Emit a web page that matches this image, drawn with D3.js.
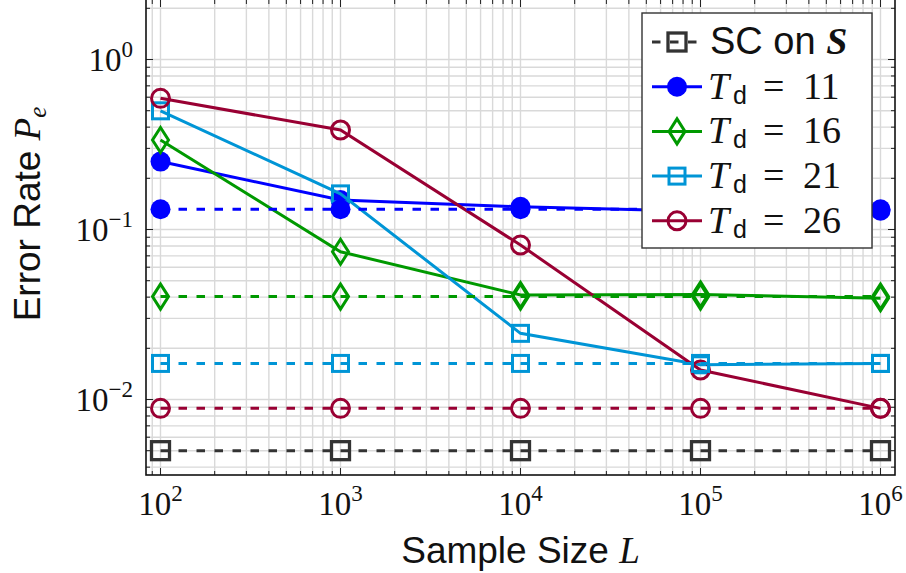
<!DOCTYPE html>
<html>
<head>
<meta charset="utf-8">
<script src="https://cdn.jsdelivr.net/npm/d3@7"></script>
<style>
  body { margin: 0; background: #fff; }
</style>
</head>
<body>
<div id="my_dataviz"></div>
<script>
// sample sizes on the x axis
const sampleSizes = [1e2, 1e3, 1e4, 1e5, 1e6];

// error rates
const scOnS   = [0.0050, 0.0050, 0.0050, 0.0050, 0.0050];
const td11    = [0.251, 0.149, 0.136, 0.128, 0.129];
const td16    = [0.336, 0.074, 0.0412, 0.0415, 0.0394];
const td21    = [0.499, 0.162, 0.0245, 0.0160, 0.0163];
const td26    = [0.591, 0.385, 0.081, 0.0149, 0.00887];
// dashed reference levels for each T_d
const td11Ref = [0.1315, 0.1315, 0.1315, 0.1315, 0.1315];
const td16Ref = [0.0403, 0.0403, 0.0403, 0.0403, 0.0403];
const td21Ref = [0.0163, 0.0163, 0.0163, 0.0163, 0.0163];
const td26Ref = [0.00887, 0.00887, 0.00887, 0.00887, 0.00887];

// tick labels
const xTickExp = [2, 3, 4, 5, 6];
const yTickExp = [-2, -1, 0];
const tdLabels = ['11', '16', '21', '26'];

const width = 906, height = 573;
const plotLeft = 146, plotRight = 895, plotTop = -1, plotBottom = 475;

const colors = { sc: '#333333', t11: '#0000ff', t16: '#009900', t21: '#0095d6', t26: '#990033' };
const lw = 3;

const svg = d3.select('#my_dataviz')
  .append('svg')
    .attr('width', width)
    .attr('height', height);

// 180 px per decade on x, 170 px per decade on y
const x = d3.scaleLog()
  .domain([Math.pow(10, 2 - 14.5 / 180), Math.pow(10, 6 + 14.5 / 180)])
  .range([plotLeft, plotRight]);
const y = d3.scaleLog()
  .domain([Math.pow(10, -1 - 245.5 / 170), Math.pow(10, -1 + 230.5 / 170)])
  .range([plotBottom, plotTop]);

// minor + major tick values
const xMinor = [], yMinor = [];
for (let e = 1; e <= 6; e++) for (let k = 2; k <= 9; k++) {
  const v = k * Math.pow(10, e);
  if (v > x.domain()[0] && v < x.domain()[1]) xMinor.push(v);
}
for (let e = -3; e <= 0; e++) for (let k = 2; k <= 9; k++) {
  const v = k * Math.pow(10, e);
  if (v > y.domain()[0] && v < y.domain()[1]) yMinor.push(v);
}
const xMajor = xTickExp.map(e => Math.pow(10, e));
const yMajor = yTickExp.map(e => Math.pow(10, e));

// grid
const grid = svg.append('g');
grid.selectAll('.xg').data(xMinor.concat(xMajor)).enter().append('line')
  .attr('x1', d => x(d)).attr('x2', d => x(d))
  .attr('y1', plotTop).attr('y2', plotBottom)
  .style('stroke', '#d9d9d9').style('stroke-width', 1.4);
grid.selectAll('.yg').data(yMinor.concat(yMajor)).enter().append('line')
  .attr('y1', d => y(d)).attr('y2', d => y(d))
  .attr('x1', plotLeft).attr('x2', plotRight)
  .style('stroke', '#d9d9d9').style('stroke-width', 1.4);

// ticks on all four sides, pointing inward
const ticks = svg.append('g').style('stroke', '#222').style('stroke-width', 1);
function tickSet(vals, len) {
  vals.forEach(v => {
    ticks.append('line').attr('x1', x(v)).attr('x2', x(v)).attr('y1', plotBottom).attr('y2', plotBottom - len);
    ticks.append('line').attr('x1', x(v)).attr('x2', x(v)).attr('y1', plotTop).attr('y2', plotTop + len + 1);
  });
}
function tickSetY(vals, len) {
  vals.forEach(v => {
    ticks.append('line').attr('y1', y(v)).attr('y2', y(v)).attr('x1', plotLeft).attr('x2', plotLeft + len);
    ticks.append('line').attr('y1', y(v)).attr('y2', y(v)).attr('x1', plotRight).attr('x2', plotRight - len);
  });
}
tickSet(xMinor, 4); tickSet(xMajor, 7);
tickSetY(yMinor, 4); tickSetY(yMajor, 7);

// plot frame
svg.append('rect')
  .attr('x', plotLeft).attr('y', plotTop)
  .attr('width', plotRight - plotLeft).attr('height', plotBottom - plotTop)
  .style('fill', 'none').style('stroke', '#111').style('stroke-width', 1.6);

// marker shapes
const markerShapes = {
  dot: (g, c) => g.append('circle').attr('r', 10).style('fill', c),
  circle: (g, c) => g.append('circle').attr('r', 9).style('fill', 'none').style('stroke', c).style('stroke-width', lw),
  square: (g, c) => g.append('rect').attr('x', -8).attr('y', -8).attr('width', 16).attr('height', 16)
    .style('fill', 'none').style('stroke', c).style('stroke-width', lw),
  bigsquare: (g, c) => g.append('rect').attr('x', -9).attr('y', -9).attr('width', 18).attr('height', 18)
    .style('fill', 'none').style('stroke', c).style('stroke-width', 3.3),
  diamond: (g, c) => g.append('path').attr('d', 'M0,-12.5 L8,0 L0,12.5 L-8,0 Z')
    .style('fill', 'none').style('stroke', c).style('stroke-width', lw)
};

const series = [
  { values: td11, color: colors.t11, shape: 'dot', dashed: false },
  { values: td16, color: colors.t16, shape: 'diamond', dashed: false },
  { values: td21, color: colors.t21, shape: 'square', dashed: false },
  { values: td26, color: colors.t26, shape: 'circle', dashed: false },
  { values: td11Ref, color: colors.t11, shape: 'dot', dashed: true },
  { values: td16Ref, color: colors.t16, shape: 'diamond', dashed: true },
  { values: td21Ref, color: colors.t21, shape: 'square', dashed: true },
  { values: td26Ref, color: colors.t26, shape: 'circle', dashed: true },
  { values: scOnS, color: colors.sc, shape: 'bigsquare', dashed: true }
];

const line = d3.line()
  .x(d => x(d[0]))
  .y(d => y(d[1]));

series.forEach(s => {
  const pts = sampleSizes.map((L, i) => [L, s.values[i]]);
  svg.append('path')
    .datum(pts)
    .attr('d', line)
    .style('fill', 'none')
    .style('stroke', s.color)
    .style('stroke-width', lw)
    .style('stroke-dasharray', s.dashed ? '8.5,9.5' : null);
  pts.forEach(p => {
    const g = svg.append('g').attr('transform', `translate(${x(p[0])},${y(p[1])})`);
    markerShapes[s.shape](g, s.color);
  });
});

// tick labels
const serif = "'Liberation Serif', 'DejaVu Serif', serif";
const sans = "'Liberation Sans', 'DejaVu Sans', sans-serif";

xTickExp.forEach(e => {
  const t = svg.append('text')
    .attr('x', x(Math.pow(10, e))).attr('y', 515)
    .attr('text-anchor', 'middle')
    .style('font-family', serif).style('font-size', '33px').style('fill', '#111');
  t.append('tspan').text('10');
  t.append('tspan').attr('dy', -14).style('font-size', '23px').text(String(e));
});
yTickExp.forEach(e => {
  const t = svg.append('text')
    .attr('x', 133).attr('y', y(Math.pow(10, e)) + 11)
    .attr('text-anchor', 'end')
    .style('font-family', serif).style('font-size', '33px').style('fill', '#111');
  t.append('tspan').text('10');
  t.append('tspan').attr('dy', -14).style('font-size', '23px').text(e < 0 ? '\u2212' + (-e) : String(e));
});

// axis titles
const xl = svg.append('text')
  .attr('x', (plotLeft + plotRight) / 2).attr('y', 563)
  .attr('text-anchor', 'middle')
  .style('font-size', '37px').style('fill', '#111');
xl.append('tspan').style('font-family', sans).text('Sample Size ');
xl.append('tspan').style('font-family', serif).style('font-style', 'italic').text('L');

const yl = svg.append('text')
  .attr('transform', 'translate(40,214) rotate(-90)')
  .attr('text-anchor', 'middle')
  .style('font-size', '37px').style('fill', '#111');
yl.append('tspan').style('font-family', sans).text('Error Rate ');
yl.append('tspan').style('font-family', serif).style('font-style', 'italic').text('P');
yl.append('tspan').style('font-family', serif).style('font-style', 'italic')
  .style('font-size', '25px').attr('dy', 6).text('e');

// legend
const legendData = [
  { color: colors.sc, shape: 'bigsquare', dashed: true },
  { color: colors.t11, shape: 'dot', dashed: false, td: tdLabels[0] },
  { color: colors.t16, shape: 'diamond', dashed: false, td: tdLabels[1] },
  { color: colors.t21, shape: 'square', dashed: false, td: tdLabels[2] },
  { color: colors.t26, shape: 'circle', dashed: false, td: tdLabels[3] }
];

svg.append('rect')
  .attr('x', 642).attr('y', 13).attr('width', 230).attr('height', 235)
  .style('fill', '#fff').style('stroke', '#333').style('stroke-width', 1.4);

legendData.forEach((d, i) => {
  const ly = 42 + i * 44.7;
  svg.append('line')
    .attr('x1', 652).attr('x2', 702).attr('y1', ly).attr('y2', ly)
    .style('stroke', d.color).style('stroke-width', lw)
    .style('stroke-dasharray', d.dashed ? '8.5,9.5' : null);
  const g = svg.append('g').attr('transform', `translate(677,${ly})`);
  markerShapes[d.shape](g, d.color);

  const t = svg.append('text').attr('y', ly + 12).style('font-size', '38px').style('fill', '#111');
  if (!d.td) {
    t.append('tspan').attr('x', 710).style('font-family', sans).text('SC on ');
    t.append('tspan').style('font-family', serif).style('font-style', 'italic')
      .style('font-weight', 'bold').text('S');
  } else {
    t.append('tspan').attr('x', 708).style('font-family', serif).style('font-style', 'italic').text('T');
    t.append('tspan').attr('x', 733).attr('dy', 5).style('font-family', sans).style('font-size', '25px').text('d');
    t.append('tspan').attr('x', 763).attr('dy', -5).style('font-family', serif).text('=');
    t.append('tspan').attr('x', 803).style('font-family', serif).text(d.td);
  }
});
</script>
</body>
</html>
